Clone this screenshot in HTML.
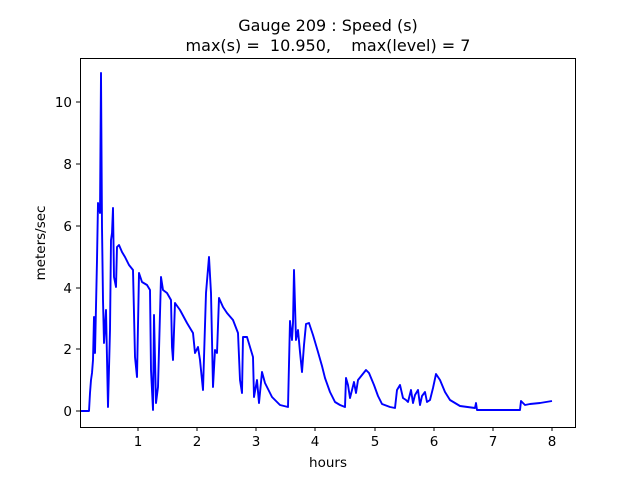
<!DOCTYPE html>
<html><head><meta charset="utf-8"><style>body{margin:0;background:#fff}svg text{font-family:"DejaVu Sans",sans-serif;fill:#000}</style></head><body>
<svg width="640" height="480" xmlns="http://www.w3.org/2000/svg">
<rect width="640" height="480" fill="#fff"/>
<text x="328" y="31" font-size="16" text-anchor="middle">Gauge 209 : Speed (s)</text>
<text x="328" y="51" font-size="16" text-anchor="middle" xml:space="preserve">max(s) =  10.950,    max(level) = 7</text>
<polyline fill="none" stroke="#0000ff" stroke-width="1.9" stroke-linejoin="round" points="80,411 89,411 90,393 91,380 92,373 93,360 94,317 95,353 97,260 98,203 100,213 101,73 102,227 103,300 104,343 106,310 108,407 110,330 111,240 112,233 113,208 114,277 116,287 117,247 119,245 122,252 125,257 129,265 133,270 135,357 137,377 139,273 142,282 147,285 150,290 151,370 153,410 154,315 156,403 158,387 161,277 163,290 167,293 171,300 172,347 173,360 175,303 180,310 187,323 193,333 195,353 198,347 200,360 203,390 206,293 209,257 211,293 213,387 215,350 217,353 219,298 223,307 227,313 233,320 238,333 240,380 242,393 243,337 247,337 253,357 254,397 257,380 259,403 262,372 265,383 272,397 280,405 288,407 290,321 292,340 293,323 294,270 296,340 298,330 300,352 302,372 304,345 306,324 309,323 313,335 318,352 322,366 325,378 330,392 335,402 340,405 345,407 346,378 348,385 350,398 352,390 354,382 356,393 358,380 362,375 366,370 369,373 374,385 378,396 382,404 390,407 395,408 397,390 400,385 403,398 406,400 408,402 411,390 413,403 415,395 418,390 420,405 422,396 425,392 427,402 430,400 433,388 436,374 440,380 445,392 450,400 460,406 475,408 476,403 477,410 520,410 521,401 525,405 530,404 540,403 552,401"/>
<rect x="80.5" y="58.5" width="495" height="369" fill="none" stroke="#000" stroke-width="1"/>
<g stroke="#000" stroke-width="1">
<line x1="138" y1="427" x2="138" y2="431"/><line x1="197" y1="427" x2="197" y2="431"/><line x1="256" y1="427" x2="256" y2="431"/><line x1="315" y1="427" x2="315" y2="431"/><line x1="375" y1="427" x2="375" y2="431"/><line x1="434" y1="427" x2="434" y2="431"/><line x1="493" y1="427" x2="493" y2="431"/><line x1="552" y1="427" x2="552" y2="431"/>
<line x1="76" y1="411" x2="80" y2="411"/><line x1="76" y1="349" x2="80" y2="349"/><line x1="76" y1="288" x2="80" y2="288"/><line x1="76" y1="226" x2="80" y2="226"/><line x1="76" y1="164" x2="80" y2="164"/><line x1="76" y1="102" x2="80" y2="102"/>
</g>
<g font-size="13.5" text-anchor="middle">
<text x="138" y="446">1</text><text x="197" y="446">2</text><text x="256" y="446">3</text><text x="315" y="446">4</text><text x="375" y="446">5</text><text x="434" y="446">6</text><text x="493" y="446">7</text><text x="552" y="446">8</text>
</g>
<g font-size="13.5" text-anchor="end">
<text x="72" y="416">0</text><text x="72" y="354">2</text><text x="72" y="293">4</text><text x="72" y="231">6</text><text x="72" y="169">8</text><text x="72" y="107">10</text>
</g>
<text x="328" y="467" font-size="13.5" text-anchor="middle">hours</text>
<text transform="translate(45,243) rotate(-90)" font-size="13.5" text-anchor="middle">meters/sec</text>
</svg>
</body></html>
